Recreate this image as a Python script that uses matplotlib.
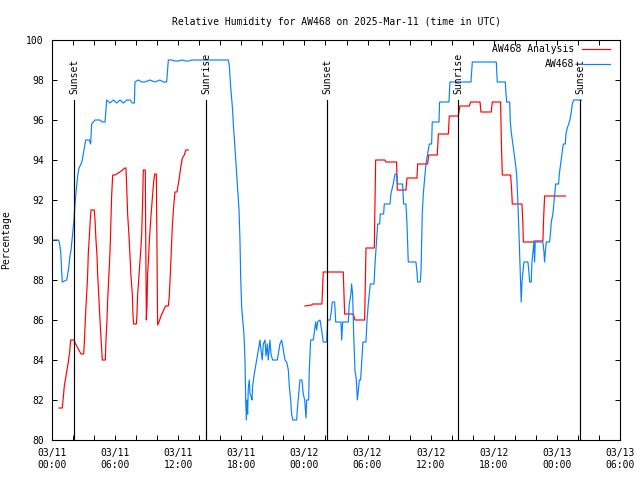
import numpy as np
import matplotlib
matplotlib.use("Agg")
import matplotlib.pyplot as plt

# ---- data (hours since 03/11 00:00 UTC) ----
blue_h = [0.0, 0.6, 0.69, 0.83, 0.92, 0.98, 1.40, 1.49, 1.59, 1.71, 1.81, 1.90, 2.0, 2.09, 2.16,
          2.25, 2.34, 2.44, 2.57, 2.76, 2.88, 3.04, 3.20, 3.55, 3.67, 3.77, 4.09, 4.56, 4.78, 5.04,
          5.20, 5.51, 5.83, 6.15, 6.46, 6.78, 7.10, 7.42, 7.64, 7.83, 7.89, 8.21, 8.52, 8.84, 9.3,
          9.8, 10.25, 10.6, 10.9, 11.06, 11.4, 11.7, 12.0, 12.4, 12.7, 13.0, 13.3, 16.76,
          16.86, 16.98, 17.08, 17.17, 17.24, 17.33, 17.43, 17.55, 17.65, 17.78, 17.87, 17.94, 18.03,
          18.13, 18.25, 18.35, 18.41, 18.48, 18.54, 18.60, 18.66, 18.76, 18.82, 18.92, 19.01, 19.07,
          19.20, 19.33, 19.45, 19.55, 19.68, 19.77, 19.87, 19.99, 20.09, 20.25, 20.34, 20.47, 20.56,
          20.72, 20.82, 20.97, 21.20, 21.42, 21.51, 21.67, 21.83, 21.99, 22.15, 22.31, 22.47, 22.56,
          22.69, 22.78, 22.88, 23.26, 23.32, 23.45, 23.57, 23.76, 23.89, 24.02, 24.15, 24.21, 24.40,
          24.46, 24.59, 24.84, 24.97, 25.06, 25.16, 25.25, 25.48, 25.63, 25.79, 26.11, 26.21, 26.43,
          26.55, 26.65, 26.87, 26.97, 27.47, 27.54, 27.63, 28.17, 28.26, 28.42, 28.48, 28.58, 28.68,
          28.80, 28.93, 29.03, 29.12, 29.22, 29.34, 29.44, 29.56, 29.85, 29.94, 30.07, 30.26, 30.61,
          30.71, 30.83, 30.96, 31.15, 31.21, 31.53, 31.59, 32.13, 32.22, 32.44, 32.61, 32.76, 32.83,
          33.33, 33.43, 33.65, 33.75, 33.81, 33.87, 34.60, 34.70, 34.76, 35.01, 35.08, 35.14, 35.20,
          35.30, 35.46, 35.55, 35.71, 35.87, 36.09, 36.15, 36.79, 36.85, 37.74, 37.83, 39.83, 39.96,
          42.24, 42.33, 43.09, 43.15, 43.22, 43.51, 43.57, 43.66, 43.79, 43.92, 44.04, 44.17, 44.26,
          44.33, 44.39, 44.48, 44.55, 44.61, 44.68, 44.77, 44.87, 45.25, 45.34, 45.41, 45.56, 45.63,
          45.72, 45.82, 45.88, 45.94, 46.67, 46.77, 46.83, 46.90, 46.99, 47.31, 47.40, 47.47, 47.62,
          47.78, 47.88, 48.16, 48.23, 48.35, 48.48, 48.61, 48.80, 48.86, 48.99, 49.11, 49.24, 49.37,
          49.46, 49.59, 50.32]
blue_v = [90.0, 90.0, 89.9, 89.4, 88.4, 87.9, 88.0, 88.3, 88.6, 89.2, 89.5, 90.0, 90.5, 91.0, 91.6,
          92.2, 92.7, 93.2, 93.6, 93.8, 94.0, 94.5, 95.0, 95.0, 94.8, 95.8, 96.0, 96.0, 95.9, 95.9,
          97.0, 96.85, 97.0, 96.85, 97.0, 96.85, 97.0, 97.0, 96.85, 96.85, 97.9, 98.0, 97.9, 97.9, 98.0,
          97.9, 98.0, 97.9, 97.9, 99.0, 99.0, 98.95, 98.95, 99.0, 98.95, 98.95, 99.0, 99.0,
          98.7, 97.7, 97.1, 96.5, 95.75, 95.1, 94.3, 93.4, 92.5, 91.5, 90.0, 88.1, 86.7,
          86.0, 85.3, 84.0, 82.1, 81.0, 82.0, 81.3, 82.6, 83.0, 82.3, 82.2, 82.0, 82.7,
          83.2, 83.6, 84.0, 84.3, 84.7, 85.0, 84.5, 84.0, 84.8, 85.0, 84.2, 84.8, 84.0,
          85.0, 84.3, 84.0, 84.0, 84.0, 84.3, 84.8, 85.0, 84.5, 84.0, 83.9, 83.5, 82.7,
          82.0, 81.3, 81.0, 81.0, 81.5, 82.3, 83.0, 83.0, 82.3, 82.0, 81.1, 82.0, 82.0,
          83.5, 85.0, 85.0, 85.5, 85.9, 85.5, 85.9, 86.0, 85.5, 84.9, 84.9, 86.0, 86.0,
          86.4, 86.9, 86.9, 85.9, 85.9, 85.0, 85.9, 85.9, 86.8, 87.3, 87.8, 87.3, 85.3,
          83.5, 83.0, 82.0, 82.5, 83.0, 83.0, 83.9, 84.9, 84.9, 85.9, 86.8, 87.8, 87.8,
          88.8, 89.8, 90.8, 90.8, 91.3, 91.3, 91.8, 91.8, 92.3, 92.8, 93.3, 93.3, 92.8,
          92.8, 91.8, 91.8, 90.8, 89.8, 88.9, 88.9, 88.4, 87.9, 87.9, 88.4, 89.8, 91.3,
          92.3, 93.3, 93.8, 94.3, 94.8, 94.8, 95.9, 95.9, 96.9, 96.9, 97.9, 97.9, 98.9,
          98.9, 97.9, 97.9, 97.4, 96.9, 96.9, 95.9, 95.4, 94.9, 94.4, 93.9, 93.3, 92.3,
          91.3, 90.4, 88.9, 87.9, 86.9, 87.9, 88.4, 88.9, 88.9, 88.4, 87.9, 87.9, 88.9,
          89.4, 89.9, 88.9, 89.9, 89.9, 89.4, 88.9, 89.4, 89.9, 89.9, 90.4, 90.9, 91.3,
          92.25, 92.8, 92.8, 93.3, 93.8, 94.3, 94.8, 94.8, 95.3, 95.6, 95.8, 96.0, 96.4,
          96.8, 97.0, 97.0]

red_h = [0.665, 0.98, 1.08, 1.17, 1.30, 1.43, 1.55, 1.68, 1.77, 2.12, 2.19, 2.76, 3.01, 3.07, 3.14,
         3.23, 3.33, 3.39, 3.45, 3.55, 3.64, 3.71, 4.02, 4.09, 4.18, 4.28, 4.34, 4.44, 4.53, 4.63,
         4.72, 4.78, 5.07, 5.13, 5.23, 5.29, 5.39, 5.48, 5.55, 5.61, 5.67, 5.77, 5.99, 6.15, 6.46,
         6.69, 6.94, 7.03, 7.10, 7.19, 7.32, 7.41, 7.51, 7.64, 7.70, 7.76, 8.02, 8.08, 8.14, 8.27,
         8.40, 8.52, 8.62, 8.68, 8.87, 8.90, 8.94, 8.97, 9.03, 9.09, 9.19, 9.28, 9.41, 9.54, 9.66,
         9.76, 9.92, 9.98, 10.04, 10.17, 10.36, 10.61, 10.80, 11.06, 11.15, 11.25, 11.34, 11.44,
         11.57, 11.69, 11.88, 12.01, 12.13, 12.26, 12.39, 12.58, 12.71, 12.96,
         18.0,
         24.05, 24.68, 24.78, 25.66, 25.73, 25.79, 27.69, 27.76, 27.82, 28.64, 28.80, 29.72, 29.79,
         29.85, 30.64, 30.71, 30.77, 31.65, 31.75, 32.76, 32.83, 33.65, 33.75, 34.70, 34.76, 35.71,
         35.81, 36.63, 36.73, 37.68, 37.77, 38.63, 38.78, 39.67, 39.80, 40.69, 40.78, 41.76, 41.86,
         42.65, 42.71, 42.81, 43.60, 43.70, 43.76, 44.68, 44.77, 44.81, 45.72, 45.82, 46.67, 46.74,
         46.83, 48.80]
red_v = [81.6, 81.6, 82.2, 82.7, 83.1, 83.5, 83.9, 84.4, 85.0, 85.0, 84.85, 84.3, 84.3, 84.85, 85.7,
         86.7, 87.6, 88.3, 89.3, 90.2, 91.0, 91.5, 91.5, 91.0, 90.0, 89.2, 88.25, 87.3, 86.3, 85.4,
         84.5, 84.0, 84.0, 85.0, 86.0, 87.0, 88.0, 89.0, 90.0, 91.2, 92.2, 93.25, 93.25, 93.3, 93.4,
         93.5, 93.6, 93.6, 92.7, 91.3, 90.2, 89.2, 88.2, 87.25, 86.25, 85.8, 85.8, 86.3, 87.25, 88.2,
         89.2, 90.2, 92.0, 93.5, 93.5, 90.8, 88.3, 86.0, 86.7, 88.3, 89.2, 90.2, 91.2, 92.1, 92.9,
         93.3, 93.3, 89.5, 85.75, 85.9, 86.2, 86.5, 86.7, 86.7, 87.2, 88.3, 89.5, 90.7,
         91.7, 92.4, 92.4, 92.8, 93.25, 93.7, 94.1, 94.25, 94.5, 94.5,
         np.nan,
         86.7, 86.75, 86.8, 86.8, 87.6, 88.4, 88.4, 87.3, 86.3, 86.3, 86.0, 86.0, 87.8,
         89.6, 89.6, 91.8, 94.0, 94.0, 93.9, 93.9, 92.5, 92.5, 93.1, 93.1, 93.8, 93.8,
         94.25, 94.25, 95.3, 95.3, 96.2, 96.2, 96.7, 96.7, 96.9, 96.9, 96.4, 96.4, 96.9,
         96.9, 95.1, 93.25, 93.25, 92.5, 91.8, 91.8, 90.8, 89.9, 89.9, 89.95, 89.95, 91.1,
         92.2, 92.2]

sun_h = [2.12, 14.64, 26.14, 38.62, 50.22]
sun_labels = ["Sunset", "Sunrise", "Sunset", "Sunrise", "Sunset"]
sun_top = 97.0

tick_hours = [0, 6, 12, 18, 24, 30, 36, 42, 48, 54]
tick_labels = ["03/11\n00:00", "03/11\n06:00", "03/11\n12:00", "03/11\n18:00",
               "03/12\n00:00", "03/12\n06:00", "03/12\n12:00", "03/12\n18:00",
               "03/13\n00:00", "03/13\n06:00"]

FONT = "DejaVu Sans Mono"
FS = 7
plt.rcParams['font.family'] = [FONT]

fig = plt.figure(figsize=(6.4, 4.8), dpi=100)
ax = fig.add_axes([52/640, 1 - 440/480, 568/640, 400/480])

ax.plot(red_h, red_v, color='#ff0000', lw=0.85, label='AW468 Analysis')
ax.plot(blue_h, blue_v, color='#0a80ff', lw=0.85, label='AW468')

for h, lab in zip(sun_h, sun_labels):
    ax.plot([h, h], [80, sun_top], color='black', lw=0.85)
    ax.text(h, sun_top + 0.3, lab, rotation=90, ha='center', va='bottom', fontsize=FS)

ax.set_xlim(0, 54)
ax.set_ylim(80, 100)
ax.set_xticks(tick_hours)
ax.set_xticklabels(tick_labels, fontsize=FS)
ax.set_xticks(np.arange(0, 55, 2), minor=True)
ax.set_yticks(np.arange(80, 101, 2))
ax.tick_params(axis='y', labelsize=FS)
ax.tick_params(which='both', direction='in', top=True, right=True, length=3.5, width=0.7, pad=6)
for sp in ax.spines.values():
    sp.set_linewidth(0.8)

ax.set_title("Relative Humidity for AW468 on 2025-Mar-11 (time in UTC)", fontsize=FS, pad=11)
ax.set_ylabel("Percentage", fontsize=FS)
ax.yaxis.set_label_coords(-0.072, 0.5)

leg = ax.legend(loc='upper right', bbox_to_anchor=((610 - 52) / 568, (440 - 44.5) / 400),
                frameon=False, markerfirst=False, fontsize=FS, handlelength=2.9,
                handletextpad=0.8, labelspacing=0.5, borderpad=0, borderaxespad=0)

fig.savefig("out.png", dpi=100)
